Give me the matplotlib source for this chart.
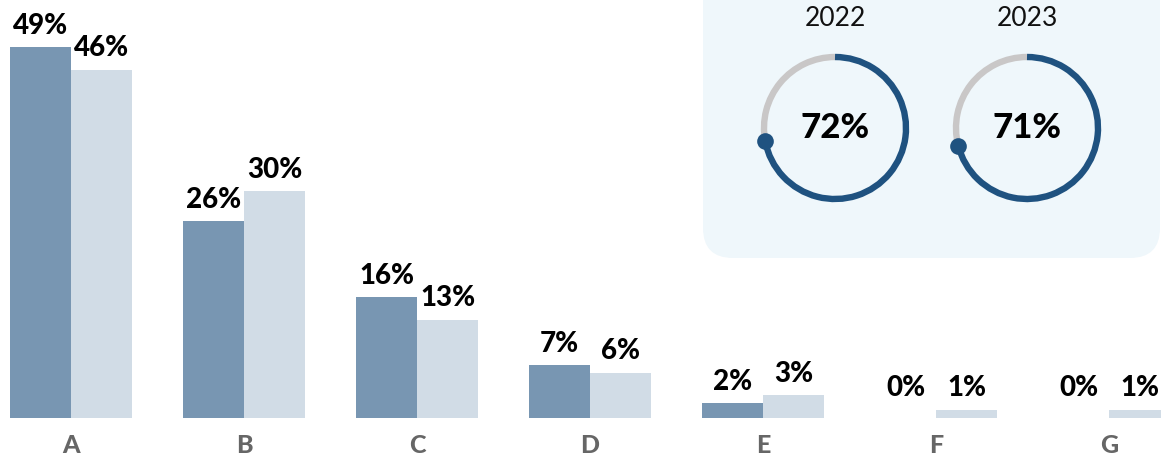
import numpy as np
import matplotlib
matplotlib.use('Agg')
import matplotlib.pyplot as plt
from matplotlib.patches import FancyBboxPatch, Arc

plt.rcParams['font.family'] = ['Lato', 'DejaVu Sans']

# data
categories = ['A', 'B', 'C', 'D', 'E', 'F', 'G']
share_2022 = [49, 26, 16, 7, 2, 0, 0]
share_2023 = [46, 30, 13, 6, 3, 1, 1]
ring_years = ['2022', '2023']
ring_values = [72, 71]

col_2022 = '#7896b2'
col_2023 = '#d1dce6'
ring_blue = '#1f5280'
ring_grey = '#c9c7c7'
panel_col = '#eff7fb'

W, H = 1161, 455
fig = plt.figure(figsize=(W / 100, H / 100), dpi=100)

# overlay in pixel units for the donut panel
bg = fig.add_axes([0, 0, 1, 1], zorder=0)
bg.set_xlim(0, W)
bg.set_ylim(0, H)
bg.axis('off')

panel = FancyBboxPatch((703, H - 258), 457, 300,
                       boxstyle='round,pad=0,rounding_size=30',
                       fc=panel_col, ec='none')
bg.add_patch(panel)

centres = [835, 1027]
cy = H - 128
r = 71
for cx, year, val in zip(centres, ring_years, ring_values):
    end = 90 - 360 * val / 100
    bg.add_patch(Arc((cx, cy), 2 * r, 2 * r, theta1=90, theta2=end + 360,
                     color=ring_grey, lw=4.6))
    bg.add_patch(Arc((cx, cy), 2 * r, 2 * r, theta1=end, theta2=90,
                     color=ring_blue, lw=4.6, capstyle='butt'))
    a = np.deg2rad(end)
    bg.plot(cx + r * np.cos(a), cy + r * np.sin(a), 'o', ms=12,
            color=ring_blue, mec='none')
    bg.text(cx, cy, f'{val}%', ha='center', va='center',
            fontsize=25, fontweight='black', color='#000000')
    bg.text(cx, H - 18, year, ha='center', va='center',
            fontsize=19, fontweight='normal', color='#111111')

# bar chart
ax = fig.add_axes([0, 0, 1, 1], zorder=1)
ax.patch.set_alpha(0)
x = np.arange(len(categories))
w = 0.3526
ax.bar(x - w / 2, share_2022, w, color=col_2022)
ax.bar(x + w / 2, share_2023, w, color=col_2023)

for xs, vals in ((x - w / 2, share_2022), (x + w / 2, share_2023)):
    for xi, v in zip(xs, vals):
        ax.annotate(f'{v}%', (xi, max(v, 1.2)), xytext=(0, 6),
                    textcoords='offset points', ha='center', va='bottom',
                    fontsize=20, fontweight='black', color='#000000')

for xi, c in zip(x, categories):
    ax.text(xi, -3.6, c, ha='center', va='center', fontsize=18,
            fontweight='black', color='#666666')

ax.set_xlim(-71 / 173, (W - 71) / 173)
ax.set_ylim(-37 / 7.57, 418 / 7.57)
ax.axis('off')

fig.savefig('out.png', dpi=100)
